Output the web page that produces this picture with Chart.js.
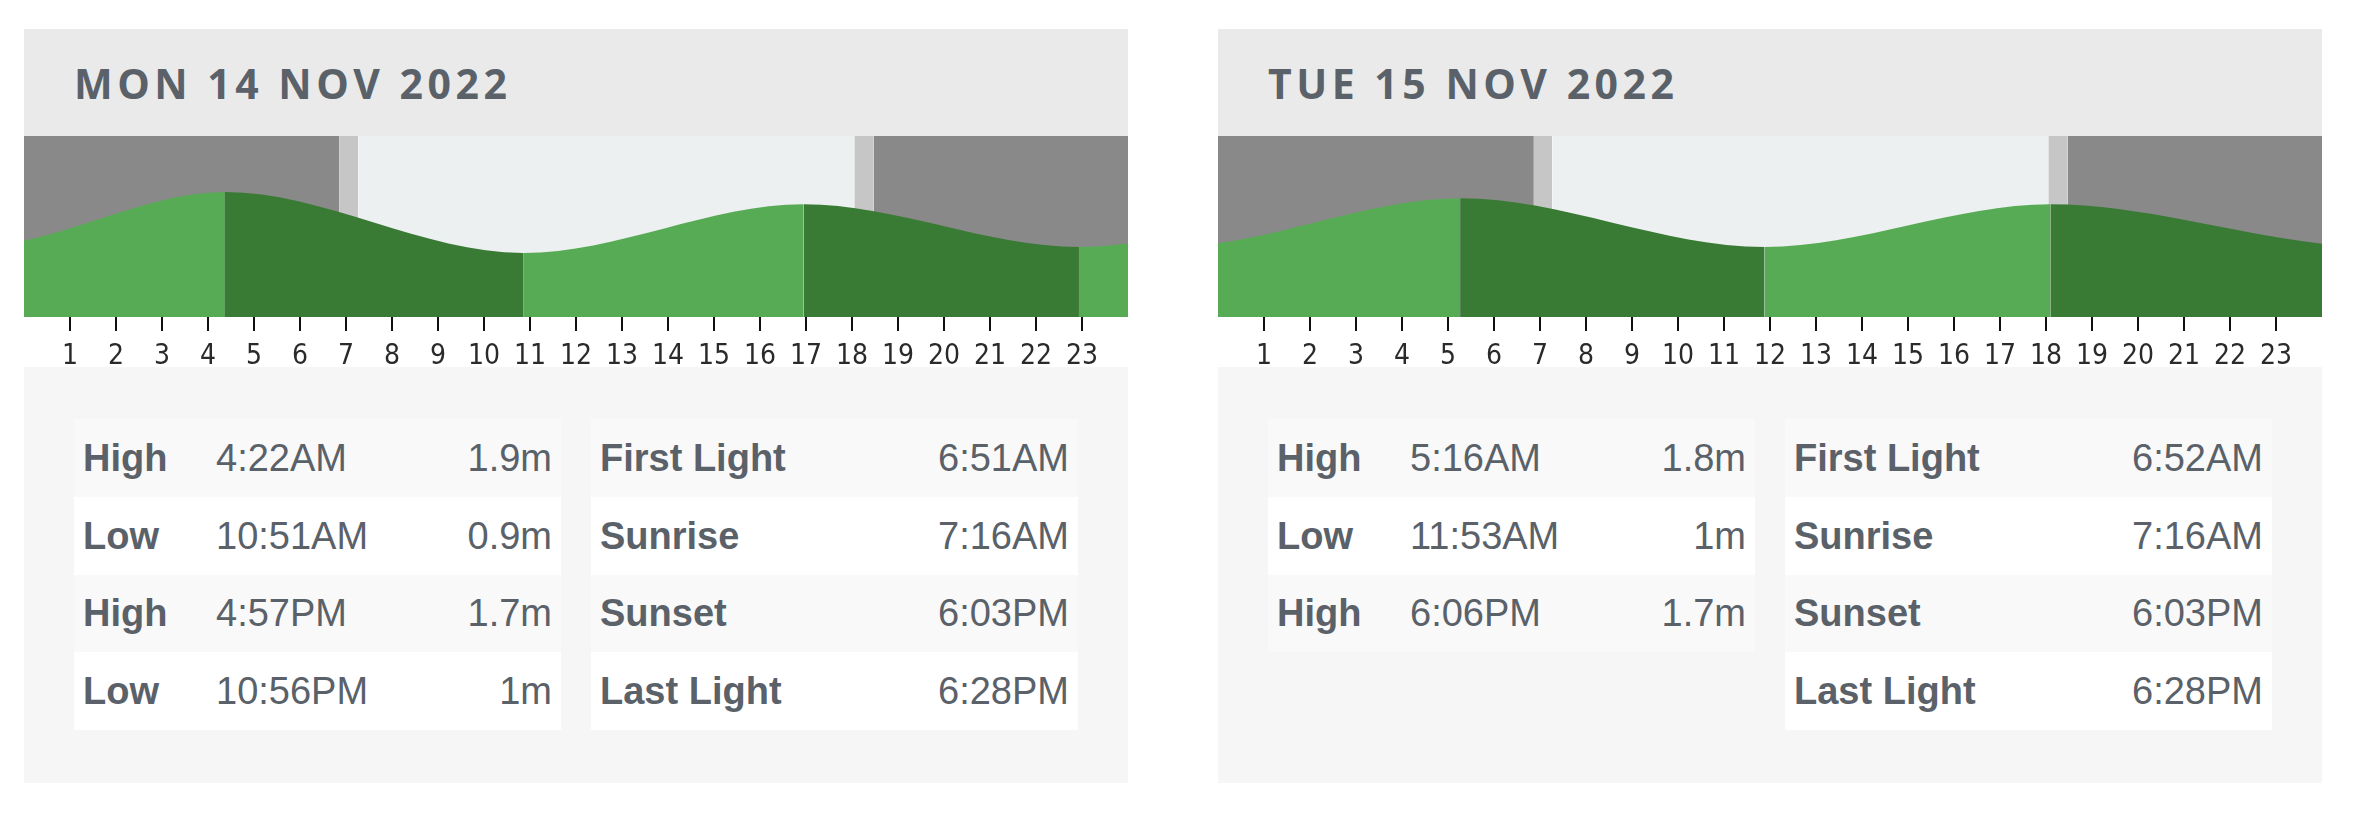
<!DOCTYPE html>
<html>
<head>
<meta charset="utf-8">
<title>Tide times</title>
<script src="https://cdn.jsdelivr.net/npm/chart.js@4.4.0/dist/chart.umd.min.js"></script>
<style>
  html, body { margin: 0; padding: 0; background: #fff; }
  body { width: 2358px; height: 819px; position: relative; overflow: hidden; }
  .day { position: absolute; top: 29px; width: 1104px; height: 754px; background: #f6f6f6; }
  .day-head {
    height: 107px; box-sizing: border-box; padding-left: 50px;
    display: flex; align-items: center; background: #eaeaea;
    font-family: 'Open Sans', sans-serif; font-weight: 700; font-size: 41px;
    letter-spacing: 4.5px; color: #5a6169;
  }
  .day-chart { position: relative; height: 231px; background: #fff; }
  .day-tables { display: flex; align-items: flex-start; gap: 30px; padding: 52px 50px 0; }
  table {
    width: 487px; border-collapse: collapse; table-layout: fixed;
    font-family: 'Liberation Sans', Arial, sans-serif; font-size: 38px; color: #5a6169;
  }
  td { box-sizing: border-box; height: 77.8px; padding: 0 9px; line-height: 1; white-space: nowrap; }
  tr:nth-child(odd) { background: #f9f9f9; }
  tr:nth-child(even) { background: #fff; }
  td.name { font-weight: bold; }
  td.val { text-align: right; }
  .tide td.name { width: 133px; }
  .tide td.time { width: 220px; }
  .sun td.name { width: 300px; }
</style>
</head>
<body>

<div class="day" id="day1" style="left:24px">
  <div class="day-head"></div>
  <div class="day-chart"><canvas></canvas></div>
  <div class="day-tables"><table class="tide"></table><table class="sun"></table></div>
</div>
<div class="day" id="day2" style="left:1218px">
  <div class="day-head"></div>
  <div class="day-chart"><canvas></canvas></div>
  <div class="day-tables"><table class="tide"></table><table class="sun"></table></div>
</div>

<script>
// ---- data, as printed on the cards ----
const dayTitles = ['MON 14 NOV 2022', 'TUE 15 NOV 2022'];

const tideKind1 = ['High', 'Low', 'High', 'Low'];
const tideTime1 = ['4:22AM', '10:51AM', '4:57PM', '10:56PM'];
const tideHeight1 = [1.9, 0.9, 1.7, 1.0];

const tideKind2 = ['High', 'Low', 'High'];
const tideTime2 = ['5:16AM', '11:53AM', '6:06PM'];
const tideHeight2 = [1.8, 1.0, 1.7];

// turning points outside each day, so the curve runs on past the edges.
// Taken from the neighbouring card where it has them, otherwise estimated
// from the height of the curve at 0h / 24h.
const tideBefore1 = [
  { time: '4:05PM', day: -1, height: 1.7 },
  { time: '10:51PM', day: -1, height: 1.0 }
];
const tideAfter1 = [
  { time: '5:16AM', day: 1, height: 1.8 },
  { time: '11:53AM', day: 1, height: 1.0 }
];
const tideBefore2 = [
  { time: '4:57PM', day: -1, height: 1.7 },
  { time: '10:56PM', day: -1, height: 1.0 }
];
const tideAfter2 = [
  { time: '1:12AM', day: 1, height: 1.0 },
  { time: '6:50AM', day: 1, height: 1.7 }
];

const lightNames = ['First Light', 'Sunrise', 'Sunset', 'Last Light'];
const lightTime1 = ['6:51AM', '7:16AM', '6:03PM', '6:28PM'];
const lightTime2 = ['6:52AM', '7:16AM', '6:03PM', '6:28PM'];

const hourTicks = [1, 2, 3, 4, 5, 6, 7, 8, 9, 10, 11, 12, 13, 14, 15, 16, 17, 18, 19, 20, 21, 22, 23];
const yMin = -0.15, yMax = 2.82;

const skyColors = ['#898989', '#c6c6c6', '#ecf0f1', '#c6c6c6', '#898989']; // night, twilight, day, twilight, night
const riseColor = '#58ab55';
const fallColor = '#397b34';

// "4:22AM" -> 4.37
function toHours(t, day) {
  const m = t.match(/(\d+):(\d+)(AM|PM)/);
  let h = Number(m[1]) % 12;
  if (m[3] === 'PM') h += 12;
  return h + Number(m[2]) / 60 + (day || 0) * 24;
}

function drawDay(id, title, kinds, times, heights, before, after, lights) {
  const el = document.getElementById(id);
  el.querySelector('.day-head').textContent = title;

  const tide = [];
  before.forEach(p => tide.push({ x: toHours(p.time, p.day), y: p.height }));
  times.forEach((t, i) => tide.push({ x: toHours(t), y: heights[i] }));
  after.forEach(p => tide.push({ x: toHours(p.time, p.day), y: p.height }));

  const sky = [{ x: 0, y: yMax }];
  lights.forEach(t => sky.push({ x: toHours(t), y: yMax }));
  sky.push({ x: 24, y: yMax });

  new Chart(el.querySelector('canvas'), {
    type: 'line',
    data: {
      datasets: [
        {
          label: 'Tide',
          data: tide,
          fill: 'start',
          borderWidth: 0,
          pointRadius: 0,
          cubicInterpolationMode: 'monotone',
          capBezierPoints: false,
          backgroundColor: riseColor,
          segment: {
            // rising water light green, falling water dark green
            backgroundColor: c => c.p1.parsed.y > c.p0.parsed.y ? riseColor : fallColor
          }
        },
        {
          label: 'Light',
          data: sky,
          fill: 'start',
          borderWidth: 0,
          pointRadius: 0,
          backgroundColor: skyColors[0],
          segment: {
            backgroundColor: c => skyColors[c.p0DataIndex]
          }
        }
      ]
    },
    options: {
      responsive: true,
      maintainAspectRatio: false,
      animation: false,
      events: [],
      layout: { autoPadding: false, padding: 0 },
      plugins: { legend: { display: false }, tooltip: { enabled: false } },
      scales: {
        x: {
          type: 'linear',
          min: 0,
          max: 24,
          afterBuildTicks: axis => { axis.ticks = hourTicks.map(v => ({ value: v })); },
          afterFit: axis => { axis.height = 50; },
          border: { display: false },
          grid: { drawOnChartArea: false, tickLength: 14, lineWidth: 2, color: '#111' },
          ticks: {
            autoSkip: false,
            maxRotation: 0,
            padding: 9,
            color: '#2a2a2a',
            font: { family: "'Liberation Sans Narrow', 'DejaVu Sans Condensed', sans-serif", size: 28 }
          }
        },
        y: { display: false, min: yMin, max: yMax }
      }
    }
  });

  // build each table in one go so all rows share one tbody (striping)
  el.querySelector('.tide').innerHTML = kinds.map((k, i) =>
    `<tr><td class="name">${k}</td><td class="time">${times[i]}</td><td class="val">${heights[i]}m</td></tr>`
  ).join('');
  el.querySelector('.sun').innerHTML = lightNames.map((n, i) =>
    `<tr><td class="name">${n}</td><td class="val">${lights[i]}</td></tr>`
  ).join('');
}

drawDay('day1', dayTitles[0], tideKind1, tideTime1, tideHeight1, tideBefore1, tideAfter1, lightTime1);
drawDay('day2', dayTitles[1], tideKind2, tideTime2, tideHeight2, tideBefore2, tideAfter2, lightTime2);
</script>
</body>
</html>
